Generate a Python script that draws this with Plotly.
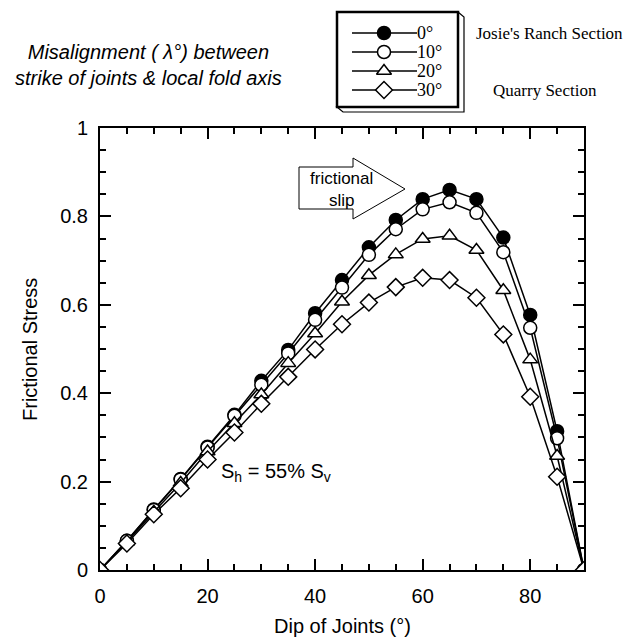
import plotly.graph_objects as go

# ---- data ----
dip = [0, 5, 10, 15, 20, 25, 30, 35, 40, 45, 50, 55, 60, 65, 70, 75, 80, 85, 90]
stress_0 = [0, 0.066, 0.137, 0.206, 0.279, 0.351, 0.428, 0.498, 0.581, 0.656, 0.730, 0.792, 0.839, 0.860, 0.839, 0.752, 0.577, 0.314, 0]
stress_10 = [0, 0.066, 0.136, 0.205, 0.277, 0.349, 0.419, 0.490, 0.566, 0.639, 0.713, 0.771, 0.816, 0.832, 0.808, 0.719, 0.548, 0.298, 0]
stress_20 = [0, 0.064, 0.131, 0.197, 0.268, 0.332, 0.397, 0.468, 0.535, 0.607, 0.667, 0.714, 0.749, 0.756, 0.724, 0.633, 0.476, 0.258, 0]
stress_30 = [0, 0.060, 0.126, 0.185, 0.250, 0.311, 0.376, 0.437, 0.499, 0.556, 0.605, 0.640, 0.661, 0.656, 0.616, 0.533, 0.392, 0.211, 0]

series_names = ["0°", "10°", "20°", "30°"]
series_values = [stress_0, stress_10, stress_20, stress_30]
series_symbols = ["circle", "circle", "triangle-up", "diamond"]
series_fills = ["black", "white", "white", "white"]

W, H = 632, 641
OFF = 8  # page body margin: screen pixel = figure pixel + OFF
SANS = "Liberation Sans, Arial, Helvetica, sans-serif"
SERIF = "Liberation Serif, Times New Roman, serif"

fig = go.Figure()

for name, vals, sym, fill in zip(series_names, series_values, series_symbols, series_fills):
    fig.add_trace(go.Scatter(
        x=dip, y=vals, mode="lines+markers", name=name,
        line=dict(color="black", width=1.5),
        marker=dict(symbol=sym, size=13, color=fill, line=dict(color="black", width=1.5)),
        showlegend=False, xaxis="x", yaxis="y",
    ))

# ---- hand-drawn legend (screen-pixel overlay axes x2/y2) ----
leg_rows = [33, 52, 71, 90]
for name, sym, fill, ry in zip(series_names, series_symbols, series_fills, leg_rows):
    fig.add_trace(go.Scatter(
        x=[352, 417], y=[ry, ry], mode="lines", line=dict(color="black", width=1.5),
        showlegend=False, hoverinfo="skip", xaxis="x2", yaxis="y2"))
    fig.add_trace(go.Scatter(
        x=[384], y=[ry], mode="markers",
        marker=dict(symbol=sym, size=13, color=fill, line=dict(color="black", width=1.5)),
        showlegend=False, hoverinfo="skip", xaxis="x2", yaxis="y2"))

shapes = [
    # 3D shadow of legend box
    dict(type="path", xref="x2", yref="y2",
         path="M 458,12 L 464,17 L 464,112 L 343,112 L 337,107 L 458,107 Z",
         fillcolor="white", line=dict(color="black", width=1.2), layer="below"),
    dict(type="rect", xref="x2", yref="y2", x0=337, y0=12, x1=458, y1=107,
         fillcolor="rgba(0,0,0,0)", line=dict(color="black", width=2.5)),
    # frictional slip arrow
    dict(type="path", xref="x2", yref="y2",
         path="M 299,167 L 353,167 L 353,158 L 405,189 L 353,219 L 353,209 L 299,209 Z",
         fillcolor="white", line=dict(color="black", width=1)),
]

annotations = []
for name, ry in zip(series_names, leg_rows):
    annotations.append(dict(xref="x2", yref="y2", x=416, y=ry, text=name, showarrow=False,
                            xanchor="left", yanchor="middle", height=18, borderpad=0,
                            font=dict(family=SERIF, size=18, color="black")))

annotations += [
    dict(xref="x2", yref="y2", x=474, y=33, text="Josie's Ranch Section", showarrow=False,
         xanchor="left", yanchor="middle", font=dict(family=SERIF, size=17, color="black")),
    dict(xref="x2", yref="y2", x=491, y=90, text="Quarry Section", showarrow=False,
         xanchor="left", yanchor="middle", font=dict(family=SERIF, size=17, color="black")),
    dict(xref="x2", yref="y2", x=148, y=65,
         text="<i>Misalignment ( λ°) between<br>strike of joints &amp; local fold axis</i>",
         showarrow=False, xanchor="center", yanchor="middle", align="center",
         font=dict(family=SANS, size=20, color="black")),
    dict(xref="x2", yref="y2", x=341, y=189, text="frictional<br>slip", showarrow=False,
         xanchor="center", yanchor="middle", align="center",
         font=dict(family=SANS, size=17, color="black")),
    dict(xref="x2", yref="y2", x=219, y=472, text="S<sub>h</sub> = 55% S<sub>v</sub>", showarrow=False,
         xanchor="left", yanchor="middle", font=dict(family=SANS, size=20, color="black")),
    dict(xref="x2", yref="y2", x=342, y=626, text="Dip of Joints (°)", showarrow=False,
         xanchor="center", yanchor="middle", font=dict(family=SANS, size=20, color="black")),
    dict(xref="x2", yref="y2", x=30, y=350, text="Frictional Stress", showarrow=False, textangle=-90,
         xanchor="center", yanchor="middle", font=dict(family=SANS, size=20, color="black")),
]

axis_common = dict(
    showline=True, linecolor="black", linewidth=2, mirror="ticks",
    ticks="inside", ticklen=11, tickwidth=1.5, tickcolor="black",
    showgrid=False, zeroline=False, automargin=False,
    tickfont=dict(family=SANS, size=20, color="black"),
)

fig.update_layout(
    width=W, height=H,
    margin=dict(l=0, r=0, t=0, b=0),
    paper_bgcolor="white", plot_bgcolor="rgba(0,0,0,0)",
    showlegend=False,
    xaxis=dict(domain=[(100 - OFF) / W, (584 - OFF) / W], range=[0, 90], tick0=0, dtick=20,
               minor=dict(dtick=5, ticks="inside", ticklen=6, tickcolor="black", tickwidth=1.5),
               ticklabelstandoff=7, anchor="y", **axis_common),
    yaxis=dict(domain=[(H - (570 - OFF)) / H, (H - (128 - OFF)) / H], range=[0, 1], tick0=0, dtick=0.2,
               minor=dict(dtick=0.05, ticks="inside", ticklen=6, tickcolor="black", tickwidth=1.5),
               ticklabelstandoff=6, anchor="x", **axis_common),
    xaxis2=dict(domain=[0, 1], range=[OFF, W + OFF], visible=False, anchor="y2", fixedrange=True),
    yaxis2=dict(domain=[0, 1], range=[H + OFF, OFF], visible=False, anchor="x2", fixedrange=True),
    shapes=shapes,
    annotations=annotations,
)

fig.write_html("out.html")
